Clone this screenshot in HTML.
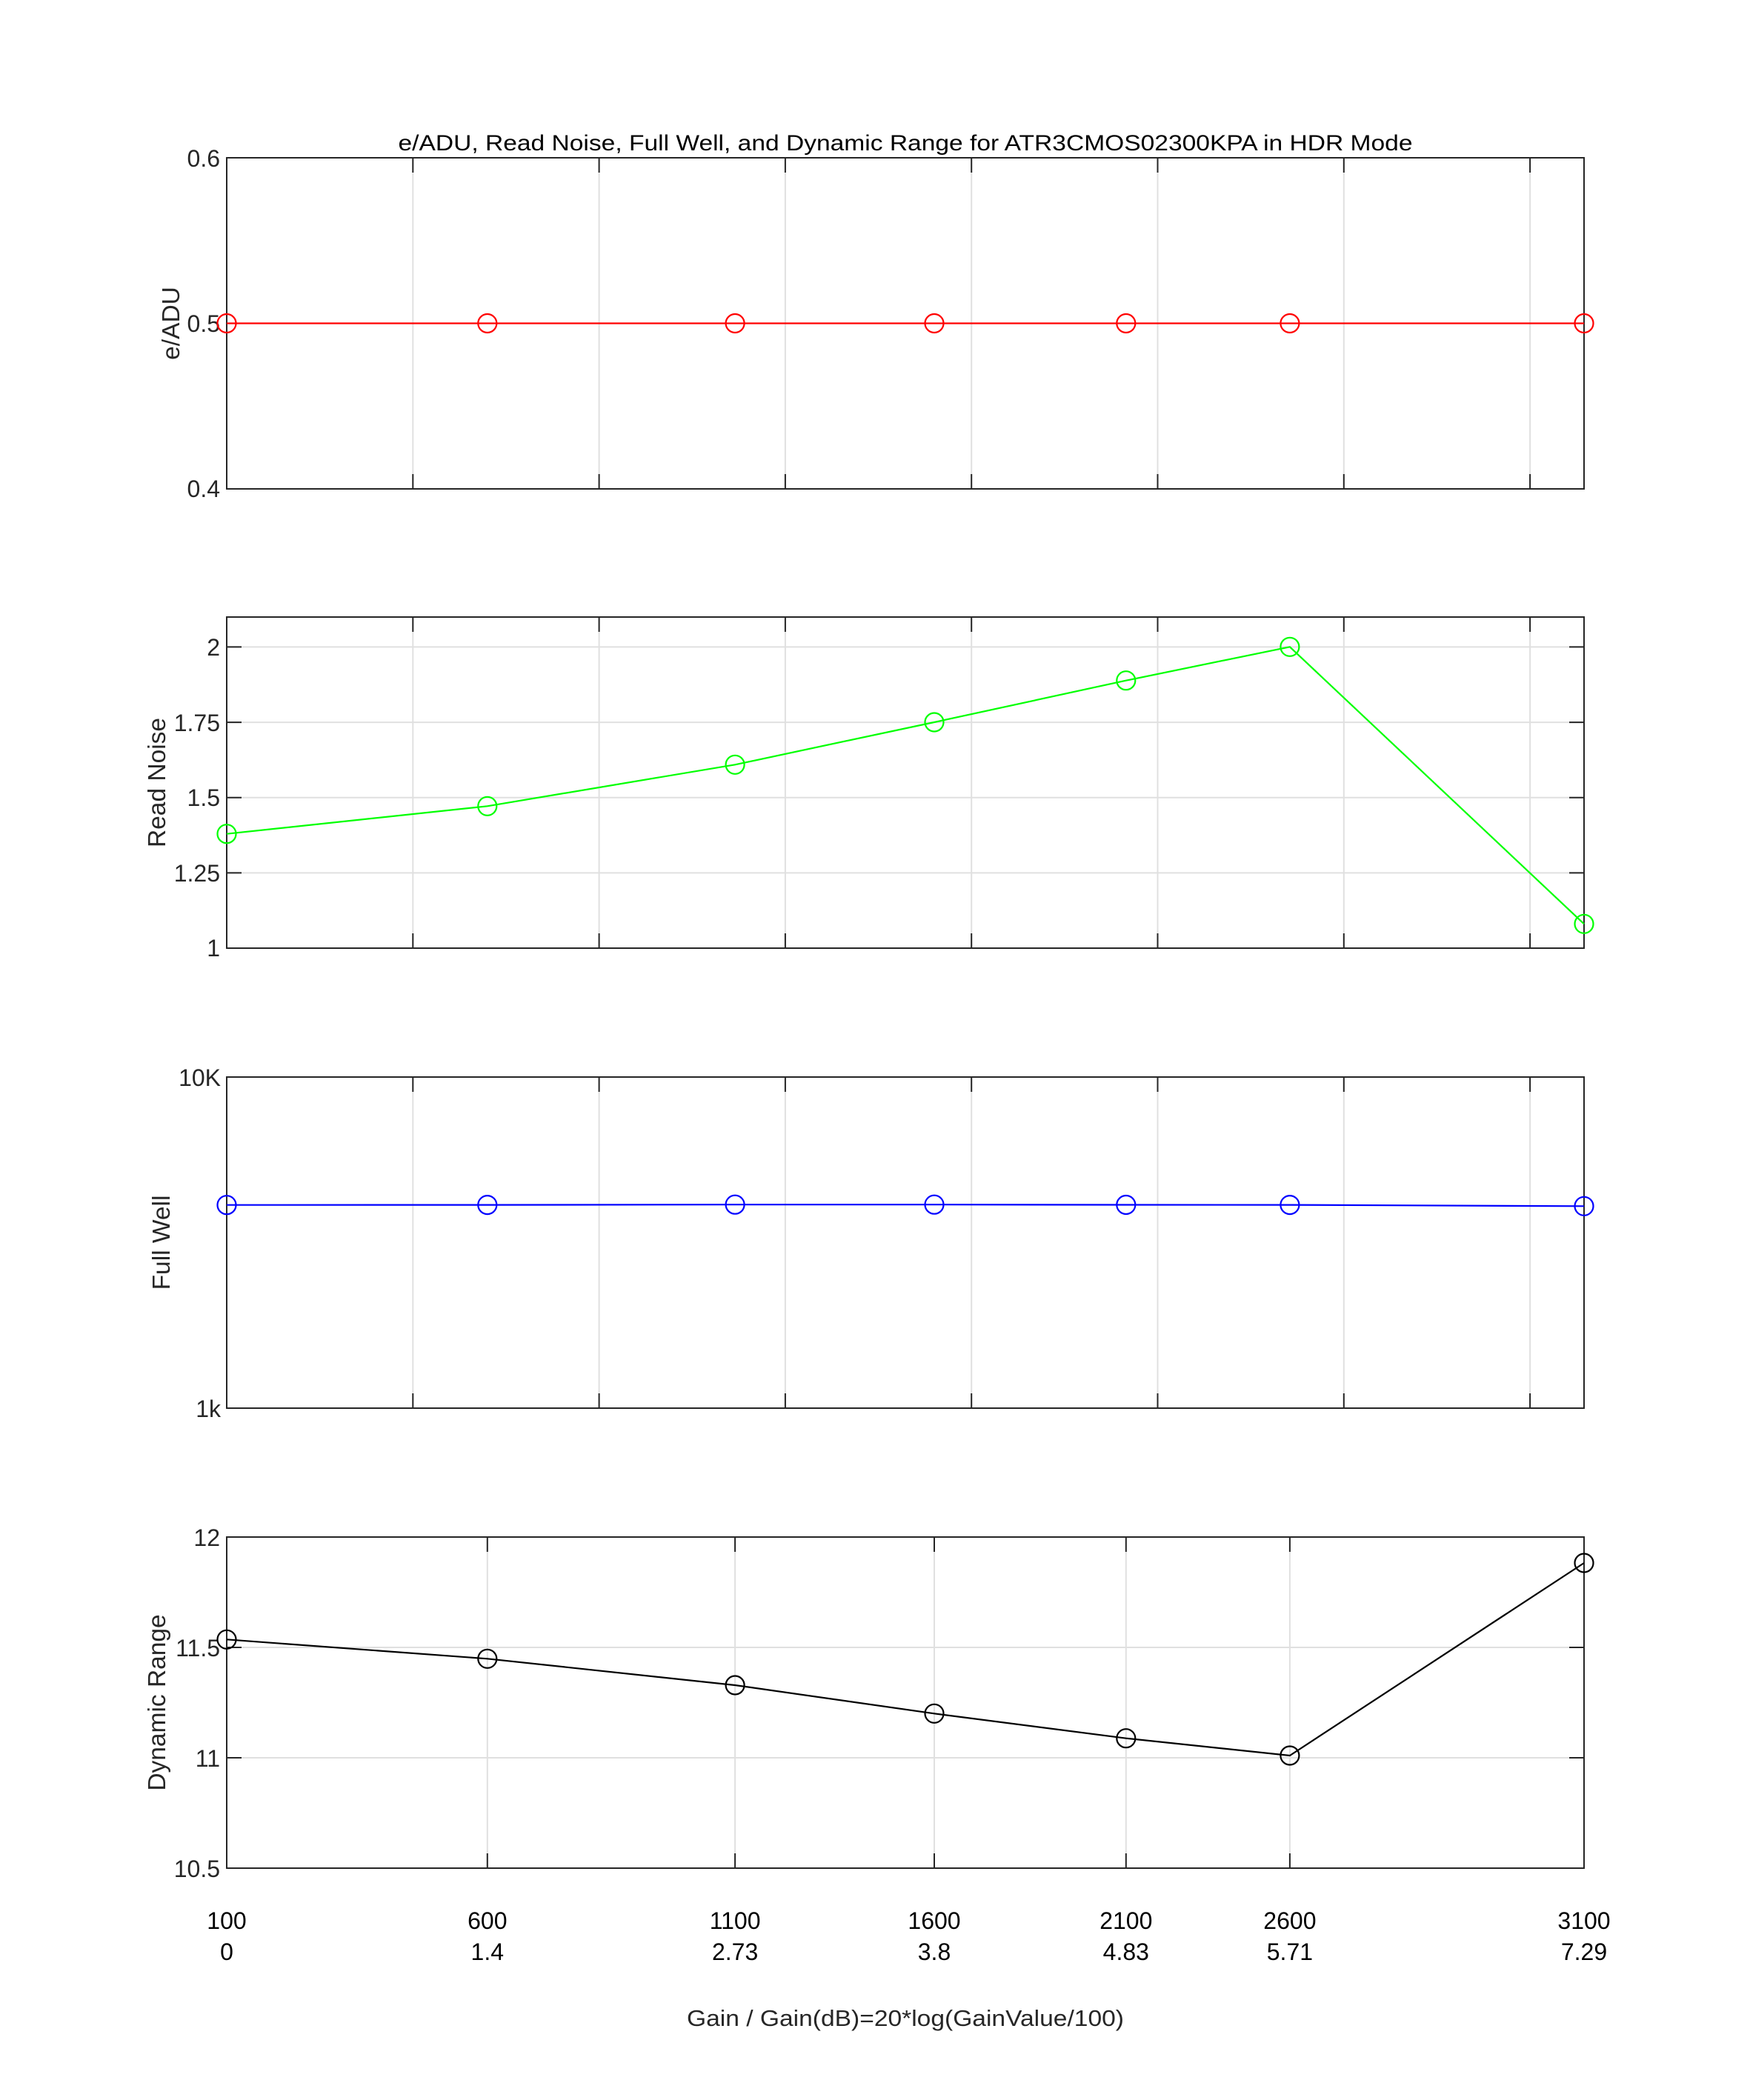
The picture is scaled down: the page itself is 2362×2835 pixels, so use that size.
<!DOCTYPE html>
<html><head><meta charset="utf-8"><style>
html,body{margin:0;padding:0;background:#fff;}
svg{display:block;}
text{font-family:"Liberation Sans",Arial,sans-serif;fill:#262626;}
</style></head><body>
<svg width="2362" height="2835" viewBox="0 0 2362 2835" xmlns="http://www.w3.org/2000/svg">
<rect width="2362" height="2835" fill="#fff"/>

<!-- Title -->
<text x="1222" y="203" font-size="30" text-anchor="middle" textLength="1369" lengthAdjust="spacingAndGlyphs" style="fill:#000">e/ADU, Read Noise, Full Well, and Dynamic Range for ATR3CMOS02300KPA in HDR Mode</text>

<!-- ============ AXIS 1 (e/ADU) top 213 bottom 660 ============ -->
<g stroke="#e0e0e0" stroke-width="2" fill="none">
  <path d="M557.3 213V660M808.6 213V660M1059.9 213V660M1311.2 213V660M1562.5 213V660M1813.8 213V660M2065.1 213V660"/>
  <path d="M306 436.5H2138"/>
</g>
<g stroke="#262626" stroke-width="2" fill="none">
  <rect x="306" y="213" width="1832" height="447"/>
  <path d="M557.3 213v20M808.6 213v20M1059.9 213v20M1311.2 213v20M1562.5 213v20M1813.8 213v20M2065.1 213v20"/>
  <path d="M557.3 660v-20M808.6 660v-20M1059.9 660v-20M1311.2 660v-20M1562.5 660v-20M1813.8 660v-20M2065.1 660v-20"/>
  <path d="M306 436.5h20M2138 436.5h-20"/>
</g>
<g font-size="32" text-anchor="end">
  <text x="297" y="225">0.6</text>
  <text x="297" y="448">0.5</text>
  <text x="297" y="671">0.4</text>
</g>
<text transform="translate(242,436.5) rotate(-90)" font-size="33.5" text-anchor="middle">e/ADU</text>
<g stroke="#ff0000" stroke-width="2.2" fill="none">
  <polyline points="306,436.5 657.8,436.5 992.1,436.5 1261,436.5 1519.8,436.5 1740.9,436.5 2138,436.5"/>
  <circle cx="306" cy="436.5" r="12.5"/><circle cx="657.8" cy="436.5" r="12.5"/><circle cx="992.1" cy="436.5" r="12.5"/><circle cx="1261" cy="436.5" r="12.5"/><circle cx="1519.8" cy="436.5" r="12.5"/><circle cx="1740.9" cy="436.5" r="12.5"/><circle cx="2138" cy="436.5" r="12.5"/>
</g>

<!-- ============ AXIS 2 (Read Noise) top 833 bottom 1280 ============ -->
<g stroke="#e0e0e0" stroke-width="2" fill="none">
  <path d="M557.3 833V1280M808.6 833V1280M1059.9 833V1280M1311.2 833V1280M1562.5 833V1280M1813.8 833V1280M2065.1 833V1280"/>
  <path d="M306 873.4H2138M306 975.1H2138M306 1076.7H2138M306 1178.4H2138"/>
</g>
<g stroke="#262626" stroke-width="2" fill="none">
  <rect x="306" y="833" width="1832" height="447"/>
  <path d="M557.3 833v20M808.6 833v20M1059.9 833v20M1311.2 833v20M1562.5 833v20M1813.8 833v20M2065.1 833v20"/>
  <path d="M557.3 1280v-20M808.6 1280v-20M1059.9 1280v-20M1311.2 1280v-20M1562.5 1280v-20M1813.8 1280v-20M2065.1 1280v-20"/>
  <path d="M306 873.4h20M306 975.1h20M306 1076.7h20M306 1178.4h20"/>
  <path d="M2138 873.4h-20M2138 975.1h-20M2138 1076.7h-20M2138 1178.4h-20"/>
</g>
<g font-size="32" text-anchor="end">
  <text x="297" y="885">2</text>
  <text x="297" y="987">1.75</text>
  <text x="297" y="1088">1.5</text>
  <text x="297" y="1190">1.25</text>
  <text x="297" y="1291">1</text>
</g>
<text transform="translate(223,1056.5) rotate(-90)" font-size="33.5" text-anchor="middle">Read Noise</text>
<g stroke="#00ff00" stroke-width="2.2" fill="none">
  <polyline points="306,1125.7 657.8,1088.3 992.1,1032.3 1261,975 1519.8,918.7 1740.9,873.3 2138,1247.3"/>
  <circle cx="306" cy="1125.7" r="12.5"/><circle cx="657.8" cy="1088.3" r="12.5"/><circle cx="992.1" cy="1032.3" r="12.5"/><circle cx="1261" cy="975" r="12.5"/><circle cx="1519.8" cy="918.7" r="12.5"/><circle cx="1740.9" cy="873.3" r="12.5"/><circle cx="2138" cy="1247.3" r="12.5"/>
</g>

<!-- ============ AXIS 3 (Full Well) top 1454 bottom 1901 ============ -->
<g stroke="#e0e0e0" stroke-width="2" fill="none">
  <path d="M557.3 1454V1901M808.6 1454V1901M1059.9 1454V1901M1311.2 1454V1901M1562.5 1454V1901M1813.8 1454V1901M2065.1 1454V1901"/>
</g>
<g stroke="#262626" stroke-width="2" fill="none">
  <rect x="306" y="1454" width="1832" height="447"/>
  <path d="M557.3 1454v20M808.6 1454v20M1059.9 1454v20M1311.2 1454v20M1562.5 1454v20M1813.8 1454v20M2065.1 1454v20"/>
  <path d="M557.3 1901v-20M808.6 1901v-20M1059.9 1901v-20M1311.2 1901v-20M1562.5 1901v-20M1813.8 1901v-20M2065.1 1901v-20"/>
</g>
<g font-size="32" text-anchor="end">
  <text x="298" y="1466">10K</text>
  <text x="298" y="1913">1k</text>
</g>
<text transform="translate(229,1677.5) rotate(-90)" font-size="33.5" text-anchor="middle">Full Well</text>
<g stroke="#0000ff" stroke-width="2.2" fill="none">
  <polyline points="306,1626.7 657.8,1626.6 992.1,1626.2 1261,1626.2 1519.8,1626.5 1740.9,1626.6 2138,1628.3"/>
  <circle cx="306" cy="1626.7" r="12.5"/><circle cx="657.8" cy="1626.6" r="12.5"/><circle cx="992.1" cy="1626.2" r="12.5"/><circle cx="1261" cy="1626.2" r="12.5"/><circle cx="1519.8" cy="1626.5" r="12.5"/><circle cx="1740.9" cy="1626.6" r="12.5"/><circle cx="2138" cy="1628.3" r="12.5"/>
</g>

<!-- ============ AXIS 4 (Dynamic Range) top 2075 bottom 2522 ============ -->
<g stroke="#e0e0e0" stroke-width="2" fill="none">
  <path d="M657.8 2075V2522M992.1 2075V2522M1261 2075V2522M1519.8 2075V2522M1740.9 2075V2522"/>
  <path d="M306 2224H2138M306 2373H2138"/>
</g>
<g stroke="#262626" stroke-width="2" fill="none">
  <rect x="306" y="2075" width="1832" height="447"/>
  <path d="M657.8 2075v20M992.1 2075v20M1261 2075v20M1519.8 2075v20M1740.9 2075v20"/>
  <path d="M657.8 2522v-20M992.1 2522v-20M1261 2522v-20M1519.8 2522v-20M1740.9 2522v-20"/>
  <path d="M306 2224h20M306 2373h20M2138 2224h-20M2138 2373h-20"/>
</g>
<g font-size="32" text-anchor="end">
  <text x="297" y="2087">12</text>
  <text x="297" y="2236">11.5</text>
  <text x="297" y="2385">11</text>
  <text x="297" y="2534">10.5</text>
</g>
<text transform="translate(223,2298.5) rotate(-90)" font-size="33.5" text-anchor="middle">Dynamic Range</text>
<g stroke="#000000" stroke-width="2.2" fill="none">
  <polyline points="306,2213.3 657.8,2239.3 992.1,2275 1261,2313.3 1519.8,2346.7 1740.9,2370 2138,2110"/>
  <circle cx="306" cy="2213.3" r="12.5"/><circle cx="657.8" cy="2239.3" r="12.5"/><circle cx="992.1" cy="2275" r="12.5"/><circle cx="1261" cy="2313.3" r="12.5"/><circle cx="1519.8" cy="2346.7" r="12.5"/><circle cx="1740.9" cy="2370" r="12.5"/><circle cx="2138" cy="2110" r="12.5"/>
</g>

<!-- X tick labels -->
<g font-size="32" text-anchor="middle" style="fill:#000">
  <text x="306" y="2604" style="fill:#000">100</text>
  <text x="657.8" y="2604" style="fill:#000">600</text>
  <text x="992.1" y="2604" style="fill:#000">1100</text>
  <text x="1261" y="2604" style="fill:#000">1600</text>
  <text x="1519.8" y="2604" style="fill:#000">2100</text>
  <text x="1740.9" y="2604" style="fill:#000">2600</text>
  <text x="2138" y="2604" style="fill:#000">3100</text>
  <text x="306" y="2646" style="fill:#000">0</text>
  <text x="657.8" y="2646" style="fill:#000">1.4</text>
  <text x="992.1" y="2646" style="fill:#000">2.73</text>
  <text x="1261" y="2646" style="fill:#000">3.8</text>
  <text x="1519.8" y="2646" style="fill:#000">4.83</text>
  <text x="1740.9" y="2646" style="fill:#000">5.71</text>
  <text x="2138" y="2646" style="fill:#000">7.29</text>
</g>

<!-- X label -->
<text x="1222" y="2735" font-size="31" text-anchor="middle" textLength="590" lengthAdjust="spacingAndGlyphs">Gain / Gain(dB)=20*log(GainValue/100)</text>
</svg>
</body></html>
